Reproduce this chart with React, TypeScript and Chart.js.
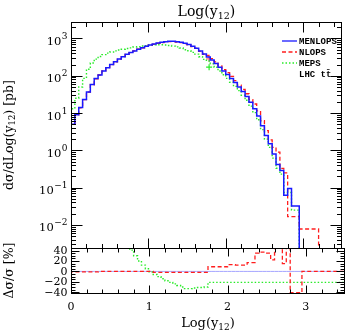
import React, { useEffect, useRef } from 'react';
import { Chart, registerables } from 'chart.js';

Chart.register(...registerables);

// ---------------- data ----------------
const BIN_WIDTH = 0.05;
const X_MIN = 0;
const X_MAX = 3.5;

// dσ/dLog(y12) [pb], bins of 0.05 starting at 0 (null = empty bin)
const MENLOPS: (number | null)[] = [
  3.0, 5.0, 9.0, 14, 23, 37, 58, 84, 105, 135,
  165, 200, 238, 280, 325, 375, 420, 465, 515, 565,
  615, 665, 710, 755, 790, 820, 840, 840, 820, 790,
  745, 690, 620, 550, 460, 385, 320, 265, 215, 170,
  135, 108, 85, 66, 50, 38, 28, 19.5, 13, 8.3,
  4.6, 2.5, 1.5, 0.8, 0.42, 0.29, 0.063, 0.095, 0.032, 0.032,
  null, null, null, null, null, null, null, null, null, null,
];
const NLOPS: (number | null)[] = [
  3.1, 4.95, 8.9, 13.9, 22.8, 36.6, 57.5, 83, 105, 135,
  165, 200, 238, 280, 325, 375, 420, 465, 515, 565,
  615, 665, 695, 740, 775, 805, 825, 825, 805, 775,
  730, 675, 608, 540, 450, 378, 350, 290, 235, 185,
  147, 122, 96, 74, 56, 43, 33, 23, 17.5, 11.4,
  6.3, 3.4, 1.9, 1.2, 0.9, 0.33, 0.25, 0.0167, 0.0167, 0.0167,
  0.0078, 0.0078, 0.0078, 0.0078, 0.0078, null, null, null, null, null,
];
const MEPS: (number | null)[] = [
  6, 13, 25, 50, 85, 150, 220, 280, 330, 370,
  405, 435, 465, 490, 515, 540, 560, 590, 600, 630,
  645, 665, 675, 680, 680, 670, 650, 625, 595, 555,
  500, 470, 425, 380, 325, 275, 250, 210, 170, 134,
  107, 85, 67, 52, 40, 30, 22, 15.4, 10.3, 6.6,
  3.6, 2.0, 1.2, 0.62, 0.33, 0.23, 0.074, 0.074, 0.025, 0.025,
  null, null, null, null, null, null, null, null, null, null,
];
// isolated bins with large errors near Log(y12) = 1.78
const SPIKE_X = [1.785];
const MEPS_SPIKE = [170];
const NLOPS_SPIKE = [285];

// Δσ/σ [%] relative to MENLOPS
const NLOPS_RATIO: number[] = [
  3, -1, -1, -1, -1, -1, -1, -1, 0, 0,
  0, 0, 0, 0, 0, 0, 0, 0, 0, 0,
  0, 0, -2, -2, -2, -2, -2, -2, -2, -2,
  -2, -2, -2, -2, -2, -2, 9, 9, 9, 9,
  9, 13, 13, 12, 12, 12, 17, 17, 35, 37,
  37, 35, 22, 60, 60, 15, 60, -41, -41, -41,
  0, 0, 0, 0, 0, 0, 0, 0, 0, 0,
];
const MEPS_RATIO: number[] = [
  0, 60, 60, 60, 60, 60, 60, 60, 60, 60,
  60, 60, 60, 60, 60, 60, 41, 30, 20, 12,
  5, -1, -6, -10, -14, -18, -21, -24, -27, -30,
  -33, -33, -32, -31, -31, -30, -21, -21, -21, -21,
  -21, -21, -21, -21, -21, -21, -21, -21, -21, -21,
  -21, -21, -21, -21, -21, -21, -21, -21, -21, -21,
  -21, -21, -21, -21, -21, -21, -21, -21, -21, -21,
];

// ticks / labels
const X_TICKS = [0, 1, 2, 3];
const X_TICK_LABELS = ['0', '1', '2', '3'];
const X_MINOR_STEP = 0.2;
const Y_DECADES = [-2, -1, 0, 1, 2, 3];
const Y_EXP_LABELS = ['−2', '−1', '0', '1', '2', '3'];
const Y_MIN = 0.00241;
const Y_MAX = 2767;
const R_TICKS = [40, 20, 0, -20, -40];
const R_TICK_LABELS = ['40', '20', '0', '−20', '−40'];
const R_MIN = -41.5;
const R_MAX = 45;
const SERIES_NAMES = ['MENLOPS', 'NLOPS', 'MEPS'];
const PROCESS_LABEL = 'LHC tt\u0304';

const BLUE = 'rgb(25,25,255)';
const RED = 'rgb(255,30,30)';
const GREEN = 'rgb(40,235,40)';
const ZERO_BLUE = 'rgb(165,165,255)';
const FLOOR = 1e-6;
const SERIF = '"DejaVu Serif"';

function histPoints(values: (number | null)[], floor: number | null) {
  const pts: { x: number; y: number }[] = [];
  if (floor !== null) pts.push({ x: X_MIN, y: floor });
  values.forEach((v, i) => pts.push({ x: X_MIN + i * BIN_WIDTH, y: v == null ? (floor ?? 0) : v }));
  const last = values[values.length - 1];
  pts.push({ x: X_MIN + values.length * BIN_WIDTH, y: last == null ? (floor ?? 0) : last });
  return pts;
}

type Part = { t: string; size: number; dy?: number };
function drawRich(ctx: CanvasRenderingContext2D, parts: Part[], cx: number, y: number) {
  let total = 0;
  for (const p of parts) {
    ctx.font = `${p.size}px ${SERIF}`;
    total += ctx.measureText(p.t).width;
  }
  let x = cx - total / 2;
  ctx.textAlign = 'left';
  ctx.textBaseline = 'alphabetic';
  for (const p of parts) {
    ctx.font = `${p.size}px ${SERIF}`;
    ctx.fillText(p.t, x, y + (p.dy ?? 0));
    x += ctx.measureText(p.t).width;
  }
}

function frameAndXTicks(ctx: CanvasRenderingContext2D, a: any, xs: any, majorLen: number, minorLen: number) {
  const L = Math.floor(a.left) + 0.5;
  const R = Math.round(a.right) - 0.5;
  const T = Math.floor(a.top) + 0.5;
  const B = Math.floor(a.bottom) + 0.5;
  ctx.strokeStyle = '#000';
  ctx.lineWidth = 1;
  ctx.strokeRect(L, T, R - L, B - T);
  ctx.beginPath();
  for (let v = X_MIN; v <= X_MAX + 1e-9; v += X_MINOR_STEP) {
    const isMajor = X_TICKS.some((t) => Math.abs(t - v) < 1e-6);
    const len = isMajor ? majorLen : minorLen;
    const x = Math.round(xs.getPixelForValue(v)) + 0.5;
    if (x <= L + 0.1 || x >= R - 0.1) continue;
    ctx.moveTo(x, T); ctx.lineTo(x, T + len);
    ctx.moveTo(x, B); ctx.lineTo(x, B - len);
  }
  ctx.stroke();
  return { L, R, T, B };
}

const upperDecor = {
  id: 'upperDecor',
  afterDraw(chart: any) {
    const { ctx, chartArea: a, scales } = chart;
    const xs = scales.x, ys = scales.y;
    ctx.save();
    const { L, R } = frameAndXTicks(ctx, a, xs, 10, 4.5);
    // log ticks
    ctx.beginPath();
    for (let d = -3; d <= 3; d++) {
      for (let m = 1; m <= 9; m++) {
        const v = m * Math.pow(10, d);
        if (v < Y_MIN || v > Y_MAX) continue;
        const y = Math.round(ys.getPixelForValue(v)) + 0.5;
        const len = m === 1 ? 11 : 4.5;
        ctx.moveTo(L, y); ctx.lineTo(L + len, y);
        ctx.moveTo(R, y); ctx.lineTo(R - len, y);
      }
    }
    ctx.stroke();
    // y tick labels 10^n
    ctx.fillStyle = '#000';
    Y_DECADES.forEach((d, i) => {
      const y = ys.getPixelForValue(Math.pow(10, d));
      ctx.textAlign = 'right';
      ctx.textBaseline = 'alphabetic';
      ctx.font = `9px ${SERIF}`;
      const ew = ctx.measureText(Y_EXP_LABELS[i]).width;
      ctx.fillText(Y_EXP_LABELS[i], 67.5, y + 0.5);
      ctx.font = `11.5px ${SERIF}`;
      ctx.fillText('10', 67.5 - ew - 0.5, y + 6.5);
    });
    // title
    drawRich(ctx, [{ t: 'Log(y', size: 14 }, { t: '12', size: 9.5, dy: 3 }, { t: ')', size: 14 }], (a.left + a.right) / 2, 15.5);
    // y title
    ctx.save();
    ctx.translate(12.5, (a.top + a.bottom) / 2);
    ctx.rotate(-Math.PI / 2);
    drawRich(ctx, [{ t: 'dσ/dLog(y', size: 12.5 }, { t: '12', size: 8.5, dy: 2.5 }, { t: ') [pb]', size: 12.5 }], 0, 0);
    ctx.restore();
    // legend
    const colors = [BLUE, RED, GREEN];
    const dashes = [[], [4, 2.5], [1.5, 2]];
    const lx0 = 282, lx1 = 297, tx = 299, y0 = 41, dy = 11;
    SERIES_NAMES.forEach((name, i) => {
      const y = y0 + i * dy;
      ctx.beginPath();
      ctx.setLineDash(dashes[i]);
      ctx.strokeStyle = colors[i];
      ctx.lineWidth = 1.3;
      ctx.moveTo(lx0, y); ctx.lineTo(lx1, y);
      ctx.stroke();
      ctx.setLineDash([]);
      ctx.fillStyle = '#000';
      ctx.font = 'bold 9px "Liberation Mono"';
      ctx.textAlign = 'left';
      ctx.textBaseline = 'middle';
      ctx.fillText(name, tx, y + 0.5);
    });
    ctx.fillText(PROCESS_LABEL, tx, y0 + 3 * dy + 0.5);
    ctx.restore();
  },
};

const lowerDecor = {
  id: 'lowerDecor',
  afterDraw(chart: any) {
    const { ctx, chartArea: a, scales } = chart;
    const xs = scales.x, ys = scales.y;
    ctx.save();
    const { L, R, B } = frameAndXTicks(ctx, a, xs, 8, 4);
    ctx.beginPath();
    for (let v = -40; v <= R_MAX; v += 5) {
      const y = Math.round(ys.getPixelForValue(v)) + 0.5;
      const len = v % 20 === 0 ? 8 : 4;
      ctx.moveTo(L, y); ctx.lineTo(L + len, y);
      ctx.moveTo(R, y); ctx.lineTo(R - len, y);
    }
    ctx.stroke();
    ctx.fillStyle = '#000';
    // y labels
    ctx.font = `11px ${SERIF}`;
    ctx.textAlign = 'right';
    ctx.textBaseline = 'middle';
    R_TICKS.forEach((v, i) => ctx.fillText(R_TICK_LABELS[i], 67.5, ys.getPixelForValue(v) + 0.5));
    // x labels
    ctx.textAlign = 'center';
    ctx.textBaseline = 'alphabetic';
    X_TICKS.forEach((v, i) => ctx.fillText(X_TICK_LABELS[i], xs.getPixelForValue(v), B + 16.5));
    // x title
    drawRich(ctx, [{ t: 'Log(y', size: 13 }, { t: '12', size: 9, dy: 3 }, { t: ')', size: 13 }], (a.left + a.right) / 2, 326.5);
    // y title
    ctx.save();
    ctx.translate(12.5, (a.top + a.bottom) / 2);
    ctx.rotate(-Math.PI / 2);
    drawRich(ctx, [{ t: 'Δσ/σ [%]', size: 12.5 }], 0, 0);
    ctx.restore();
    ctx.restore();
  },
};

const baseOptions = (padding: any, yScale: any) => ({
  responsive: false,
  animation: false as const,
  events: [] as any[],
  layout: { padding },
  plugins: { legend: { display: false }, tooltip: { enabled: false }, title: { display: false } },
  scales: {
    x: { type: 'linear' as const, min: X_MIN, max: X_MAX, display: false },
    y: yScale,
  },
  elements: { point: { radius: 0 }, line: { tension: 0 } },
});

export default function App() {
  const topRef = useRef<HTMLCanvasElement>(null);
  const botRef = useRef<HTMLCanvasElement>(null);

  useEffect(() => {
    const upper = new Chart(topRef.current!, {
      type: 'line',
      data: {
        datasets: [
          { label: SERIES_NAMES[0], data: histPoints(MENLOPS, FLOOR), borderColor: BLUE, borderWidth: 1.5, stepped: 'after', pointRadius: 0, fill: false, order: 0 },
          { label: SERIES_NAMES[1], data: histPoints(NLOPS, FLOOR), borderColor: RED, borderWidth: 1.3, borderDash: [4, 2.5], stepped: 'after', pointRadius: 0, fill: false, order: 1 },
          { label: SERIES_NAMES[2], data: histPoints(MEPS, FLOOR), borderColor: GREEN, borderWidth: 1.4, borderDash: [1.5, 2], stepped: 'after', pointRadius: 0, fill: false, order: 2 },
          { label: 'NLOPS spike', data: SPIKE_X.map((x, i) => ({ x, y: NLOPS_SPIKE[i] })), showLine: false, pointStyle: 'cross', pointRadius: 3, pointBorderColor: 'rgb(255,110,110)', pointBorderWidth: 1.2, order: 3 },
          { label: 'MEPS spike', data: SPIKE_X.map((x, i) => ({ x, y: MEPS_SPIKE[i] })), showLine: false, pointStyle: 'cross', pointRadius: 3, pointBorderColor: GREEN, pointBorderWidth: 1.2, order: 3 },
        ] as any,
      },
      options: baseOptions({ left: 71, right: 2, top: 22, bottom: 84 }, { type: 'logarithmic', min: Y_MIN, max: Y_MAX, display: false }) as any,
      plugins: [upperDecor],
    });

    const lower = new Chart(botRef.current!, {
      type: 'line',
      data: {
        datasets: [
          { label: 'MENLOPS ratio', data: histPoints(MENLOPS.map(() => 0), null), borderColor: ZERO_BLUE, borderWidth: 1, stepped: 'after', pointRadius: 0, fill: false, order: 2 },
          { label: 'NLOPS ratio', data: histPoints(NLOPS_RATIO, null), borderColor: RED, borderWidth: 1.3, borderDash: [4, 2.5], stepped: 'after', pointRadius: 0, fill: false, order: 0 },
          { label: 'MEPS ratio', data: histPoints(MEPS_RATIO, null), borderColor: GREEN, borderWidth: 1.4, borderDash: [1.5, 2], stepped: 'after', pointRadius: 0, fill: false, order: 1 },
        ] as any,
      },
      options: baseOptions({ left: 71, right: 2, top: 248, bottom: 39 }, { type: 'linear', min: R_MIN, max: R_MAX, display: false }) as any,
      plugins: [lowerDecor],
    });

    return () => {
      upper.destroy();
      lower.destroy();
    };
  }, []);

  return (
    <div style={{ position: 'absolute', left: 0, top: 0, width: 347, height: 332, background: '#fff' }}>
      <canvas ref={topRef} width={347} height={332} style={{ position: 'absolute', left: 0, top: 0 }} />
      <canvas ref={botRef} width={347} height={332} style={{ position: 'absolute', left: 0, top: 0 }} />
    </div>
  );
}
